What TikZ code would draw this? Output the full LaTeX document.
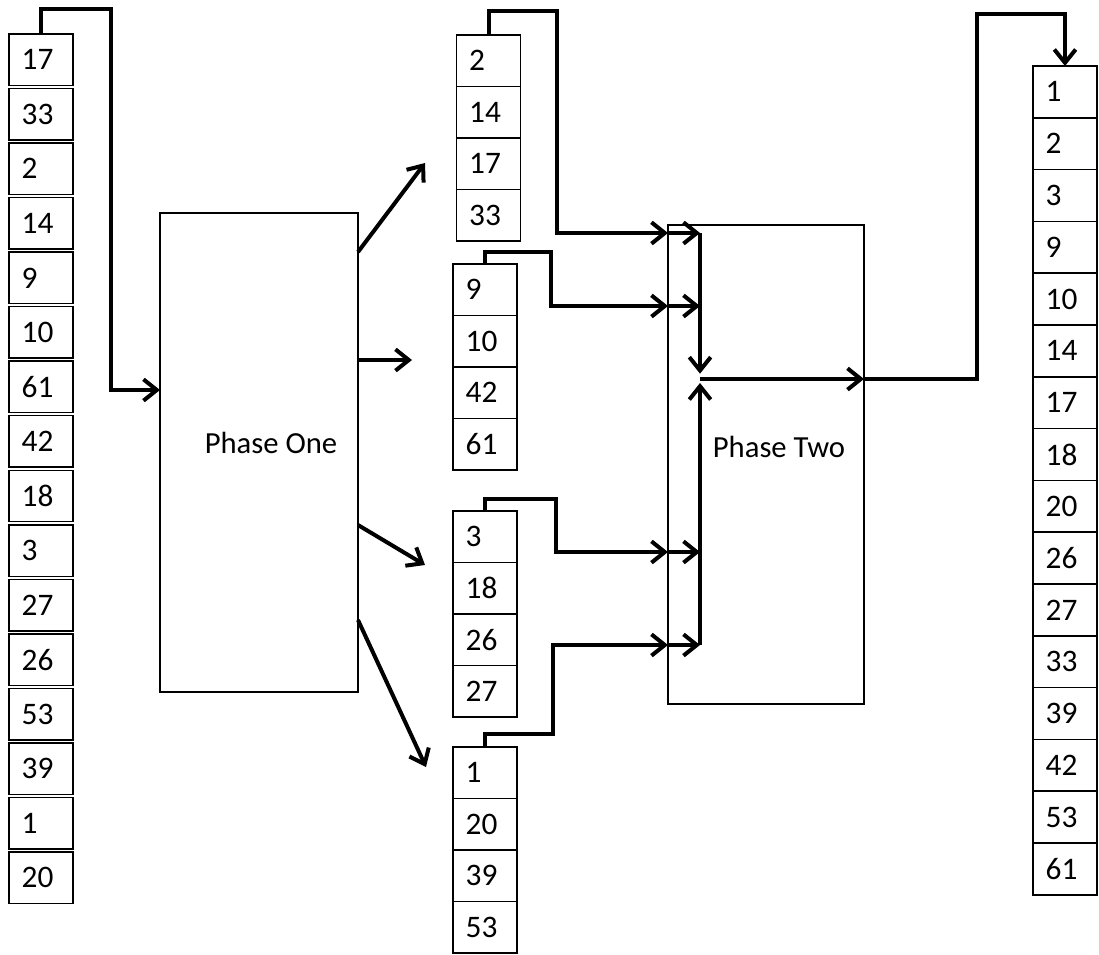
\documentclass[tikz,border=0pt]{standalone}
\usepackage{fontspec}
\setmainfont{Carlito}
\usetikzlibrary{positioning, arrows.meta, calc}

\begin{document}
\begin{tikzpicture}[
  x=0.75pt, y=-0.75pt,
  cell/.style={draw, line width=1.1pt, outer sep=0pt, minimum width=48pt, minimum height=#1,
               text width=29pt, inner xsep=9.5pt, inner ysep=0pt, align=left,
               font=\fontsize{23.5}{26}\selectfont},
  cell/.default=38.6pt,
  phase/.style={draw, line width=0.8pt, minimum width=#1, minimum height=359.25pt, outer sep=0pt},
  lbl/.style={font=\fontsize{23}{26}\selectfont, inner sep=0pt, anchor=base},
  link/.style={line width=3pt},
  arr/.style={link, -{Straight Barb[length=10pt, width=16pt]}}
]
\useasboundingbox (0,0) rectangle (1099,954);

% Input list
\foreach \v [count=\i] in {17,33,2,14,9,10,61,42,18,3,27,26,53,39,1,20} {
  \ifnum\i=1
    \node[cell, anchor=north] (l1) at (41,34) {\v};
  \else
    \pgfmathtruncatemacro\prev{\i-1}
    \node[cell, below=2.3pt of l\prev] (l\i) {\v};
  \fi
}

% Phases
\node[phase=148.5pt] (p1) at (259,452.5) {};
\node[lbl] (t1) at (271,453) {Phase One};
\node[phase=147pt] (p2) at (766,464.5) {};
\node[lbl] (t2) at (779,457) {Phase Two};

% Sorted runs
\foreach \g/\x/\y/\vals in {1/488.5/35/{2,14,17,33}, 2/485/264/{9,10,42,61},
                            3/485/511/{3,18,26,27}, 4/485/747/{1,20,39,53}} {
  \foreach \v [count=\i] in \vals {
    \ifnum\i=1
      \node[cell, anchor=north] (g\g-1) at (\x,\y) {\v};
    \else
      \pgfmathtruncatemacro\prev{\i-1}
      \node[cell, below=0pt of g\g-\prev] (g\g-\i) {\v};
    \fi
  }
}

% Output list
\foreach \v [count=\i] in {1,2,3,9,10,14,17,18,20,26,27,33,39,42,53,61} {
  \ifnum\i=1
    \node[cell=38.85pt, anchor=north] (r1) at (1065,66) {\v};
  \else
    \pgfmathtruncatemacro\prev{\i-1}
    \node[cell=38.85pt, below=0pt of r\prev] (r\i) {\v};
  \fi
}

% Into phase one
\draw[arr] (l1.north) |- (111,9) -- (111,390) -- (p1.west |- 111,390);

% Out of phase one
\coordinate (o1) at (425,163);
\coordinate (o2) at (412,360);
\coordinate (o3) at (425,565);
\coordinate (o4) at (426,767);
\draw[arr] ($(p1.north east)+(0,39)$) -- (o1);
\draw[arr] (p1.east |- o2) -- (o2);
\draw[arr] ($(p1.north east)+(0,312)$) -- (o3);
\draw[arr] ($(p1.north east)+(0,407)$) -- (o4);

% Into phase two
\coordinate (in1) at (p2.west |- 0,233);
\coordinate (in2) at (p2.west |- 0,306);
\coordinate (in3) at (p2.west |- 0,552);
\coordinate (in4) at (p2.west |- 0,645);
\coordinate (j1) at (700,233);
\coordinate (j2) at (700,306);
\coordinate (j3) at (700,552);
\coordinate (j4) at (700,645);
\coordinate (m) at (700,379);
\draw[arr] (g1-1.north) |- (557,11) |- (in1);
\draw[arr] (g2-1.north) |- (551,252) |- (in2);
\draw[arr] (g3-1.north) |- (556,499) |- (in3);
\draw[arr] (g4-1.north) |- (553,734) |- (in4);
\foreach \k in {1,2,3,4}
  \draw[arr] (in\k) -- (j\k);
\draw[arr] (j1) -- ([yshift=4pt]m);
\draw[arr] (j4) -- ([yshift=-3pt]m);

% Merged output
\draw[arr] (m) -- (p2.east |- m);
\draw[arr] (p2.east |- m) -| (977,14) -| (r1.north);

\end{tikzpicture}
\end{document}
